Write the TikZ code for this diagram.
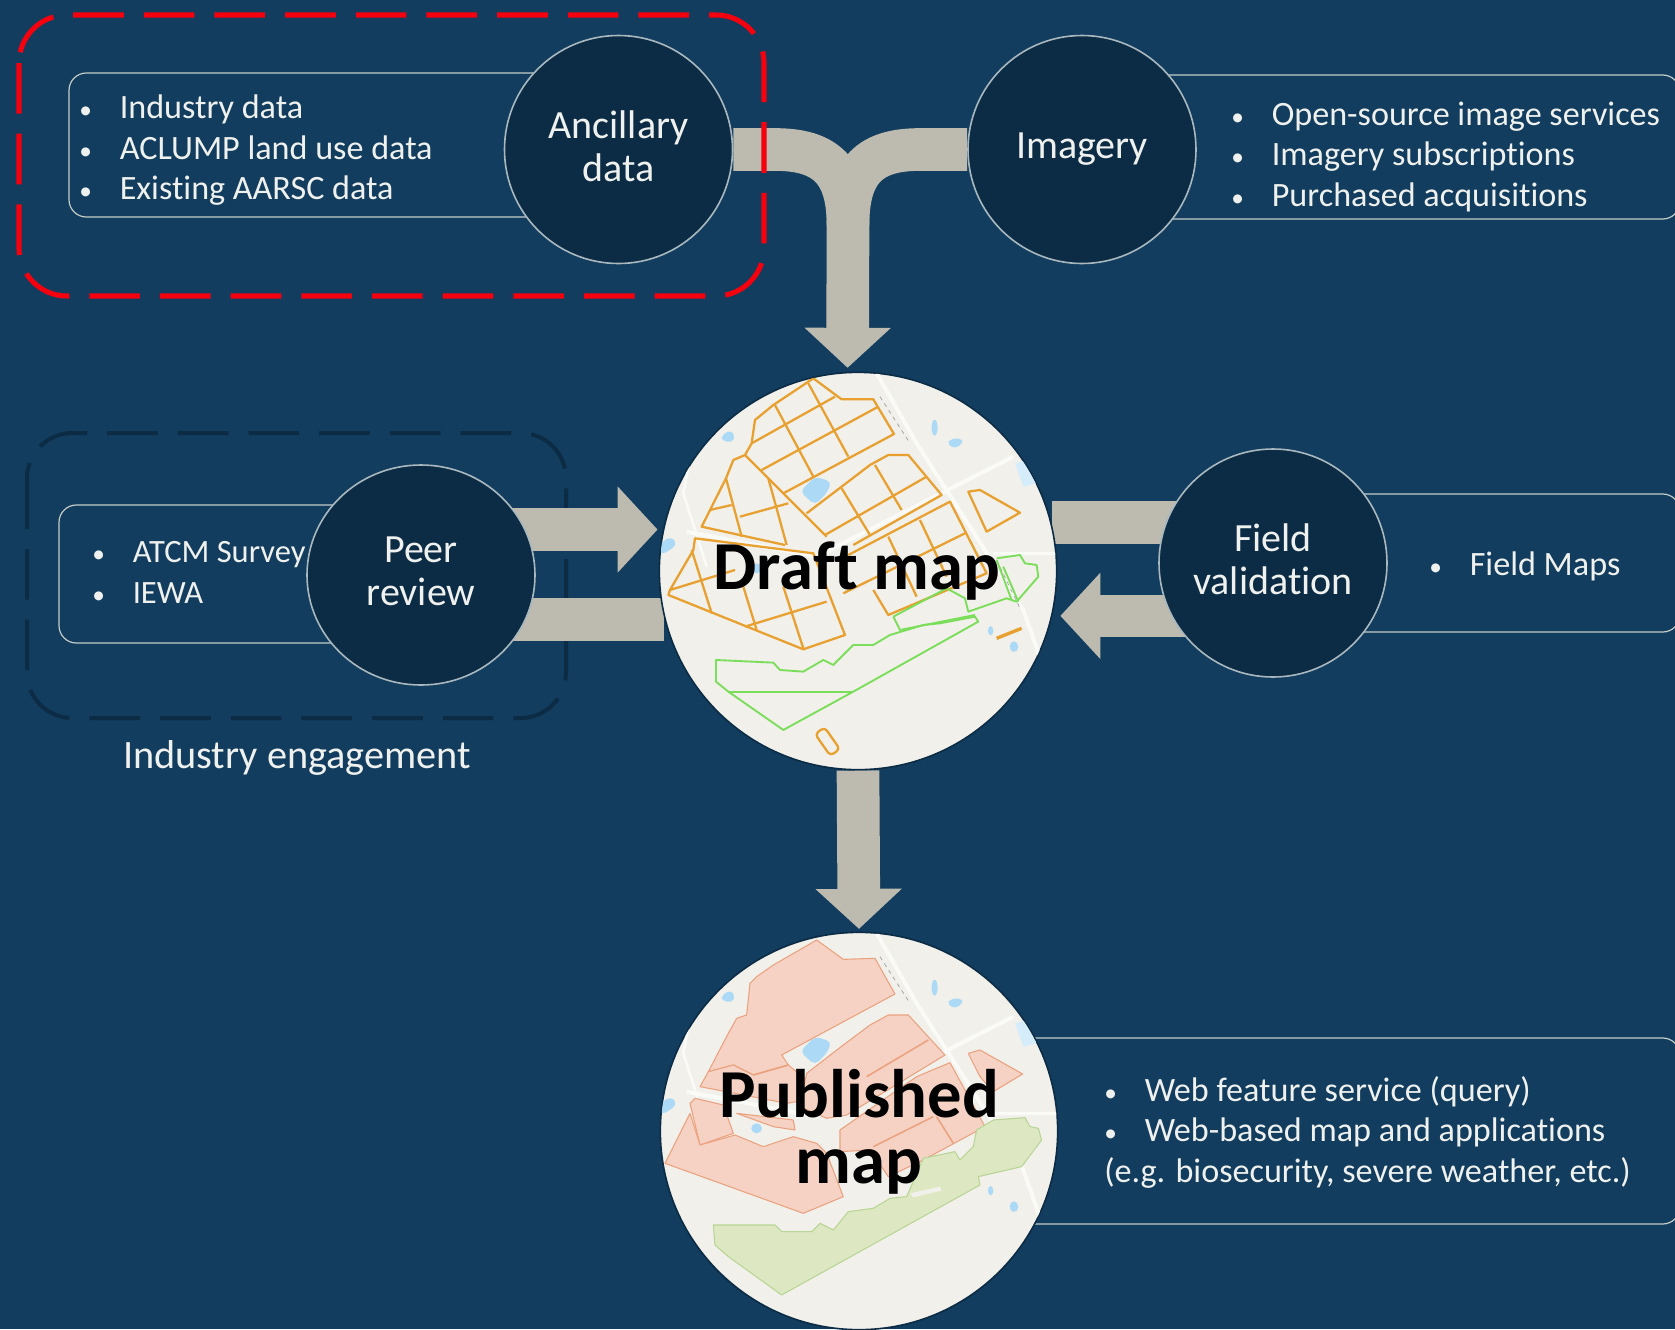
\documentclass[tikz,border=0pt]{standalone}
\usepackage{fontspec}
\setmainfont{Carlito}[Ligatures=NoCommon]
\usetikzlibrary{arrows.meta}
\usetikzlibrary{backgrounds}
\usetikzlibrary{shapes.geometric}
\definecolor{slidebg}{HTML}{123D5E}
\definecolor{circledark}{HTML}{0C2C46}
\definecolor{circleedge}{HTML}{A9B8BE}
\definecolor{boxedge}{HTML}{C4CCC8}
\definecolor{flowgrey}{HTML}{BDBBAF}
\definecolor{textlight}{HTML}{EFF1EF}
\definecolor{landbase}{HTML}{F1F0EA}
\definecolor{roadwhite}{HTML}{FAFAF7}
\definecolor{waterblue}{HTML}{ACDAF6}
\definecolor{blockorange}{HTML}{E8A030}
\definecolor{blockgreen}{HTML}{7ADE5A}
\definecolor{pinkfill}{HTML}{F6D2C5}
\definecolor{pinkedge}{HTML}{EBA27F}
\definecolor{greenfill}{HTML}{DDE8C2}
\definecolor{greenedge}{HTML}{B9D596}
\definecolor{groupred}{HTML}{F5000F}
\tikzset{
    stepcircle/.style={circle,draw=circleedge,line width=1.2pt,fill=circledark,minimum size=171pt,inner sep=0pt,
        text=textlight,align=center,font=\fontsize{30}{32.5}\selectfont},
    twolines/.style={text depth=5.5pt},
    mapcircle/.style={circle,draw=circledark,line width=1.2pt,fill=landbase,minimum size=298pt,inner sep=0pt},
    maplabel/.style={align=center,font=\fontsize{51.5}{49.5}\selectfont\bfseries,text=black},
    listbox/.style={draw=boxedge,line width=0.9pt,rounded corners=13pt},
    listtext/.style={anchor=west,align=left,text=textlight,inner sep=0pt,font=\fontsize{25.6}{30.4}\selectfont},
    blockflow/.style={draw=flowgrey,line width=32pt},
    blockhead/.style={-{Triangle[length=30pt,width=63pt]}},
}
\newcommand{\bul}{\makebox[30.4pt][l]{\fontsize{19}{19}\selectfont\textbullet}}
\newcommand{\basemap}{
    \draw[roadwhite,line width=3pt] (710,40) -- (830,250) -- (1150,750) -- (1210,920);
    \draw[roadwhite,line width=3pt] (140,515) -- (530,590) -- (1120,290);
    \draw[roadwhite,line width=2pt] (1060,580) -- (1260,580);
    \draw[roadwhite,line width=2pt] (190,90) -- (130,400) -- (200,620);
    \draw[gray!70,line width=0.6pt,dashed] (720,110) -- (810,250);
    \draw[gray!70,line width=0.6pt,dashed] (1070,600) -- (1140,745);
    \fill[waterblue,rounded corners=4pt] (480,395) -- (525,350) -- (575,365) -- (560,400) -- (525,435) -- cycle;
    \fill[waterblue] (245,235) .. controls (255,205) and (290,210) .. (280,240) .. controls (270,250) and (250,245) .. (245,235);
    \fill[waterblue] (60,560) .. controls (75,525) and (110,530) .. (105,555) .. controls (90,575) and (70,580) .. (65,580);
    \fill[waterblue] (884,203) ellipse (9 and 24);
    \fill[waterblue] (925,245) .. controls (940,230) and (975,235) .. (965,250) .. controls (955,265) and (930,270) .. (925,245);
    \fill[waterblue] (1052,812) ellipse (8 and 14);
    \fill[waterblue] (1122,860) ellipse (13 and 16);
    \fill[waterblue!50] (1125,310) -- (1160,300) -- (1190,370) -- (1150,380) -- cycle;
    \fill[waterblue] (350,625) ellipse (16 and 15);
}
\begin{document}
\begin{tikzpicture}[x=0.75pt,y=0.75pt,yscale=-1,xscale=1]
\useasboundingbox (0,0) rectangle (1675,1329);
\clip (0,0) rectangle (1675,1329);

%List boxes
\draw[listbox] (69,73) rectangle (560,217);
\draw[listbox] (1040,75) rectangle (1680,219);
\draw[listbox] (59,505) rectangle (380,643);
\draw[listbox] (1240,494) rectangle (1680,632);
\draw[listbox] (1000,1038) rectangle (1680,1224);

%Steps
\node[stepcircle,twolines] (ancillary) at (618.5,149.5) {Ancillary\\data};
\node[stepcircle] (imagery) at (1082,149.5) {Imagery};
\node[stepcircle,twolines,ellipse,minimum width=171pt,minimum height=165pt] (peer) at (421,575) {Peer\\review};
\node[stepcircle,twolines] (field) at (1273,563) {Field\\validation};

%Draft map circle
\node[mapcircle] (draft) at (858,571) {};
\begin{scope}
\clip (858,571) circle (198);
\begin{scope}[shift={(640,360)},scale=0.3333,blockorange,line width=1.7pt,line join=round]
\basemap
\draw (315,285) -- (335,250) -- (345,180) -- (400,135) -- (520,55) -- (605,118) -- (700,118) -- (762,222) -- (430,400);
\draw (335,250) -- (585,110);
\draw (365,330) -- (715,140);
\draw (405,135) -- (520,350);
\draw (505,70) -- (625,290);
\draw (315,285) -- (560,530);
\draw (315,285) -- (280,300) -- (258,355) -- (185,500) -- (435,555);
\draw (258,355) -- (305,530);
\draw (385,355) -- (440,555);
\draw (210,450) -- (275,435);
\draw (300,470) -- (445,430);
\draw (500,460) -- (605,380) -- (690,315) -- (745,285) -- (805,285) -- (905,405) -- (640,555);
\draw (555,525) -- (860,350);
\draw (605,385) -- (690,525);
\draw (705,315) -- (785,450);
\draw (625,585) -- (930,425) -- (1040,640) -- (745,765) -- (700,690);
\draw (745,530) -- (830,710);
\draw (840,480) -- (920,650);
\draw (610,700) -- (975,520);
\draw (985,395) -- (1020,390) -- (1140,458) -- (1040,515) -- cycle;
\draw (90,690) -- (160,570) -- (165,535) -- (520,580) -- (615,825) -- (490,868) -- (85,705) -- (90,690) -- (285,630);
\draw (155,570) -- (215,760);
\draw (310,680) -- (350,810);
\draw (430,680) -- (490,865);
\draw (315,800) -- (560,725);
\draw[rotate around={-35:(562,1145)},rounded corners=3pt] (545,1105) rectangle (580,1185);
\draw[line width=2.5pt] (1070,835) -- (1145,805);
\draw[blockgreen,line width=1.4pt] (228,900) -- (400,908) -- (420,930) -- (490,935) -- (550,900) -- (580,915) -- (640,855) -- (700,855) -- (750,825) -- (850,795) -- (900,790) -- (1005,770) -- (1015,785) -- (640,995) -- (430,1110) -- (265,995) -- (228,965) -- cycle;
\draw[blockgreen,line width=1.4pt] (265,997) -- (635,997);
\draw[blockgreen,line width=1.4pt] (760,770) -- (920,685) -- (975,715) -- (985,755) -- (1100,715) -- (1130,725) -- (1195,650) -- (1190,615) -- (1155,610) -- (1140,585) -- (1070,595);
\draw[blockgreen,line width=1.4pt] (760,770) -- (780,810) -- (1005,765);
\draw[blockgreen,line width=1.4pt] (1090,620) -- (1135,725);
\draw[blockgreen,line width=1.4pt] (1070,600) -- (1115,720);
\end{scope}
\end{scope}
\node[maplabel] (draftlabel) at (857,571) {Draft map};

%Published map circle
\node[mapcircle] (published) at (859,1131) {};
\begin{scope}
\clip (859,1131) circle (198);
\begin{scope}[shift={(640,920)},scale=0.3333,line width=0.8pt,line join=round]
\basemap
\filldraw[fill=pinkfill,draw=pinkedge] (530,60) -- (610,118) -- (705,115) -- (765,222) -- (425,405) -- (445,435) -- (340,465) -- (280,435) -- (205,455) -- (265,340) -- (290,295) -- (320,285) -- (330,190) -- (350,170) -- (400,135) -- cycle;
\filldraw[fill=pinkfill,draw=pinkedge] (180,500) -- (205,455) -- (280,435) -- (340,465) -- (445,435) -- (560,530) -- (440,550) -- cycle;
\filldraw[fill=pinkfill,draw=pinkedge] (500,460) -- (610,375) -- (690,315) -- (745,285) -- (805,285) -- (915,405) -- (620,585) -- (560,595) -- (480,560) -- cycle;
\filldraw[fill=pinkfill,draw=pinkedge] (930,428) -- (1035,620) -- (850,720) -- (745,770) -- (690,690) -- (600,695) -- (600,630) -- (830,470) -- cycle;
\filldraw[fill=pinkfill,draw=pinkedge] (985,400) -- (1020,390) -- (1148,462) -- (1060,515) -- (1020,470) -- cycle;
\filldraw[fill=pinkfill,draw=pinkedge] (150,550) -- (165,535) -- (250,555) -- (280,640) -- (180,675) -- cycle;
\filldraw[fill=pinkfill,draw=pinkedge] (150,580) -- (75,730) -- (490,880) -- (610,830) -- (560,700) -- (530,670) -- (460,650) -- (370,680) -- (285,645) -- (180,675) -- cycle;
\filldraw[fill=pinkfill,draw=pinkedge] (290,580) -- (460,600) -- (465,630) -- (400,620) -- cycle;
\draw[pinkedge,line width=1.2pt] (340,465) -- (445,435);
\draw[pinkedge,line width=1.2pt] (680,470) -- (865,360);
\draw[pinkedge,line width=1.2pt] (700,680) -- (880,590);
\draw[pinkedge,line width=1.2pt] (890,590) -- (940,670);
\filldraw[fill=greenfill,draw=greenedge] (220,915) -- (405,915) -- (425,935) -- (515,935) -- (540,910) -- (580,930) -- (625,875) -- (700,865) -- (750,835) -- (800,830) -- (850,715) -- (945,695) -- (960,720) -- (1000,680) -- (1010,630) -- (1060,600) -- (1155,593) -- (1170,620) -- (1195,625) -- (1205,660) -- (1145,740) -- (1015,770) -- (1020,795) -- (425,1125) -- (265,1010) -- (225,975) -- cycle;
\fill[landbase] (810,820) -- (900,800) -- (905,812) -- (820,832) -- cycle;
\end{scope}
\end{scope}
\node[maplabel] (publishedlabel) at (859,1132) {Published\\map};

%Lists
\node[listtext] (ancillarylist) at (79,150.5) {\bul Industry data\\\bul ACLUMP land use data\\\bul Existing AARSC data};
\node[listtext] (imagerylist) at (1231,157) {\bul Open-source image services\\\bul Imagery subscriptions\\\bul Purchased acquisitions};
\node[listtext,font=\fontsize{24.4}{30.4}\selectfont] (peerlist) at (92,572.5) {\bul ATCM Survey\\\bul IEWA};
\node[listtext] (fieldlist) at (1429,566) {\bul Field Maps};
\node[listtext] (publishedlist) at (1104,1132) {\bul Web feature service (query)\\\bul Web-based map and applications\\(e.g. biosecurity, severe weather, etc.)};

%Group outlines
\draw[groupred,line width=3.8pt,dash pattern=on 38pt off 15pt,rounded corners=36pt] (19,15) rectangle (764,296);
\node[text=textlight,font=\fontsize{30.2}{32}\selectfont] (engagement) at (297,758) {Industry engagement};

%Flows
\begin{scope}[on background layer]
\fill[slidebg] (0,0) rectangle (1675,1329);
\draw[circledark,line width=3pt,dash pattern=on 38pt off 15pt,rounded corners=34pt] (27,433) rectangle (566,718);
\coordinate (junction) at (848,225);
\draw[blockflow] (ancillary.east) -- (775,149.5) .. controls (825,149.5) and (848,170) .. (junction);
\draw[blockflow] (imagery.west) -- (920,149.5) .. controls (870,149.5) and (848,170) .. (junction);
\draw[blockflow,blockhead,shorten >=3pt] (junction) -- (draft.93);
\draw[blockflow,blockhead,shorten >=4pt] (draft.168 -| peer.center) -- (draft.168);
\draw[blockflow] (draft.194) -- (draft.194 -| peer.center);
\draw[blockflow] (draft.14) -- (draft.14 -| field.center);
\draw[blockflow,blockhead,shorten >=6pt] (draft.-13 -| field.center) -- (draft.-13);
\draw[blockflow,blockhead,shorten >=2pt] (draft.south) -- (published.north);
\end{scope}
\end{tikzpicture}
\end{document}
